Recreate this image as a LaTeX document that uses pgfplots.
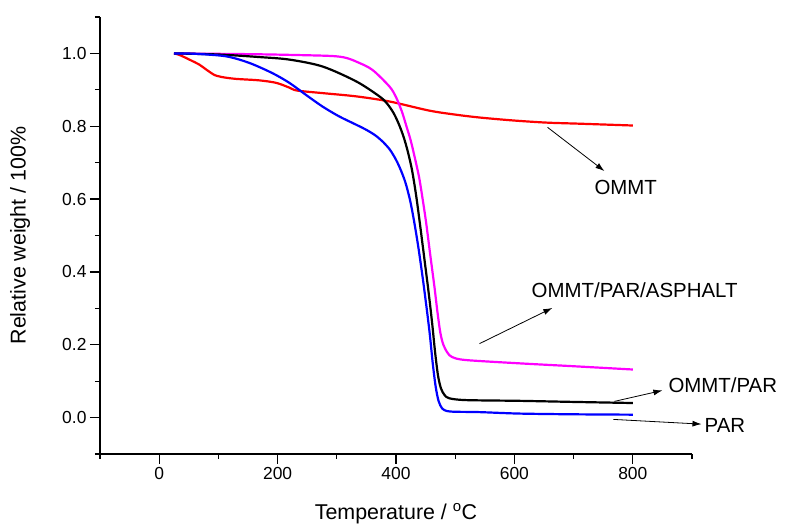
\documentclass[border=0pt]{standalone}
\usepackage{fontspec}
\setmainfont{Liberation Sans}
\usepackage{pgfplots}
\pgfplotsset{compat=1.18}
\usetikzlibrary{arrows.meta}
\definecolor{mag}{RGB}{255,0,255}
\definecolor{pblue}{RGB}{0,0,255}
\definecolor{pred}{RGB}{255,0,0}
\begin{document}
\begin{tikzpicture}
\begin{axis}[
 scale only axis, width=592bp, height=437bp,
 xmin=-100, xmax=900, ymin=-0.1, ymax=1.1,
 axis lines*=left,
 axis line style={line width=1.2bp},
 clip=false,
 xtick={0,200,400,600,800}, minor xtick={-100,100,300,500,700,900},
 ytick={0,0.2,0.4,0.6,0.8,1.0}, minor ytick={-0.1,0.1,0.3,0.5,0.7,0.9,1.1},
 yticklabel style={/pgf/number format/.cd, fixed, fixed zerofill, precision=1},
 /pgf/number format/assume math mode=true,
 tick align=outside,
 major tick length=10bp, minor tick length=5bp,
 tick style={line width=1.2bp, black},
 tick label style={font=\fontsize{17.5}{20}\selectfont},
 label style={font=\fontsize{21.5}{25}\selectfont},
 xlabel={Temperature / \textsuperscript{o}C},
 ylabel={Relative weight / 100\%},
 xlabel style={at={(axis description cs:0.5,-0.137)}, anchor=center},
 ylabel style={at={(axis description cs:-0.135,0.5)}, anchor=center},
 every axis plot/.append style={line width=2.2bp, smooth, tension=0.5},
]
% OMMT
\addplot[pred] coordinates {
(25,1.0) (34,0.996) (51,0.983) (68,0.969) (80,0.955) (93,0.941) (101,0.937) (110,0.934)
(130,0.930) (169,0.926) (198,0.919) (220,0.906) (233,0.898) (276,0.891) (333,0.882)
(389,0.868) (456,0.843) (500,0.832) (541,0.824) (597,0.816) (654,0.810) (710,0.807) (800,0.802)};
% OMMT/PAR/ASPHALT
\addplot[mag] coordinates {
(25,1.0) (150,0.998) (220,0.996) (290,0.993) (315,0.988) (335,0.976) (360,0.955) (389,0.909)
(400,0.880) (410,0.840) (418,0.798) (425,0.760) (432,0.712) (439,0.660) (445,0.600)
(451,0.534) (458,0.445) (465,0.358) (470,0.290) (475,0.232) (480,0.200) (487,0.178)
(495,0.166) (518,0.158) (608,0.149) (700,0.141) (800,0.132)};
% OMMT/PAR
\addplot[black] coordinates {
(25,1.0) (100,0.997) (169,0.990) (220,0.983) (276,0.964) (333,0.923)
(372,0.882) (385,0.862) (396,0.836) (405,0.805) (413,0.770) (420,0.730) (427,0.680)
(434,0.610) (441,0.525) (448,0.435) (455,0.345) (461,0.260) (466,0.180) (471,0.115)
(476,0.080) (482,0.062) (490,0.053) (518,0.048) (608,0.046) (700,0.043) (800,0.040)};
% PAR
\addplot[pblue] coordinates {
(25,1.0) (60,0.999) (113,0.992) (152,0.974) (191,0.946) (220,0.919)
(248,0.886) (276,0.854) (304,0.827) (333,0.804) (350,0.790) (365,0.775) (378,0.757)
(390,0.735) (400,0.708) (408,0.680) (416,0.645) (424,0.595) (431,0.535) (438,0.465)
(445,0.385) (451,0.310) (457,0.230) (462,0.150) (467,0.085) (472,0.045) (478,0.025)
(486,0.018) (500,0.016) (541,0.015) (608,0.011) (700,0.009) (800,0.008)};

\draw[line width=0.8bp, -{Latex[length=9bp,width=6bp]}] (axis cs:656,0.797) -- (axis cs:752,0.677);
\draw[line width=0.8bp, -{Latex[length=9bp,width=6bp]}] (axis cs:541,0.203) -- (axis cs:664,0.301);
\draw[line width=0.8bp, -{Latex[length=9bp,width=6bp]}] (axis cs:769,0.0445) -- (axis cs:850,0.0745);
\draw[line width=0.8bp, -{Latex[length=9bp,width=6bp]}] (axis cs:767,-0.005) -- (axis cs:916,-0.018);
\node[font=\fontsize{20.5}{24}\selectfont, anchor=center] at (axis cs:788,0.631) {OMMT};
\node[font=\fontsize{20.5}{24}\selectfont, anchor=center] at (axis cs:803,0.350) {OMMT/PAR/ASPHALT};
\node[font=\fontsize{20.5}{24}\selectfont, anchor=west, inner sep=0pt] at (axis cs:860,0.088) {OMMT/PAR};
\node[font=\fontsize{20.5}{24}\selectfont, anchor=west, inner sep=0pt] at (axis cs:921,-0.021) {PAR};
\end{axis}
\pgfresetboundingbox
\path ([xshift=-100bp,yshift=-72bp]current axis.south west) rectangle ([xshift=94bp,yshift=17bp]current axis.north east);
\end{tikzpicture}
\end{document}
